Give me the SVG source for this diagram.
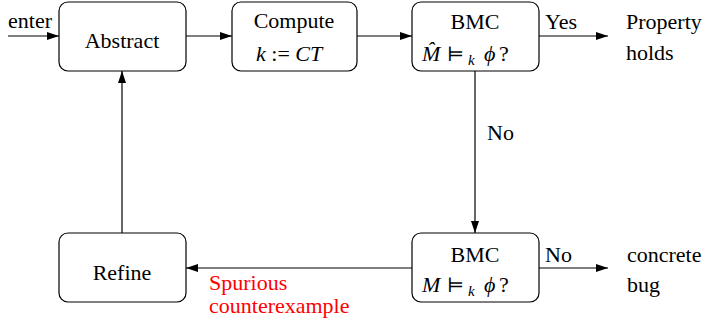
<svg xmlns="http://www.w3.org/2000/svg" width="709" height="322" viewBox="0 0 709 322">
  <defs>
    <marker id="arrow" viewBox="0 0 12 8" refX="12" refY="4" markerWidth="12" markerHeight="8" markerUnits="userSpaceOnUse" orient="auto">
      <path d="M0,0 L12,4 L0,8 Z" fill="#000"/>
    </marker>
  </defs>

  <!-- arrows -->
  <g id="connectors" fill="none" stroke="#000" stroke-width="1.2" marker-end="url(#arrow)">
    <line x1="8" y1="36" x2="59" y2="36"/>
    <line x1="186" y1="36" x2="232" y2="36"/>
    <line x1="357" y1="36" x2="412" y2="36"/>
    <line x1="539" y1="36" x2="608" y2="36"/>
    <line x1="475" y1="71" x2="475" y2="233"/>
    <line x1="539" y1="268" x2="608" y2="268"/>
    <line x1="412" y1="268" x2="186" y2="268"/>
    <line x1="122" y1="233" x2="122" y2="71"/>
  </g>

  <!-- edge labels -->
  <g id="edge-labels" font-family="Liberation Serif" font-size="22" fill="#000">
    <text x="8" y="28">enter</text>
    <text x="545" y="29">Yes</text>
    <text x="487" y="140">No</text>
    <text x="545" y="262">No</text>
    <text x="209" y="290" fill="#ff0000">Spurious</text>
    <text x="209" y="313" fill="#ff0000">counterexample</text>
  </g>

  <!-- process boxes -->
  <g id="abstract" font-family="Liberation Serif" font-size="22">
    <rect x="59" y="2" width="127" height="69" rx="9" fill="#fff" stroke="#000" stroke-width="1.2"/>
    <text x="122" y="48" text-anchor="middle">Abstract</text>
  </g>

  <g id="refine" font-family="Liberation Serif" font-size="22">
    <rect x="59" y="233" width="127" height="69" rx="9" fill="#fff" stroke="#000" stroke-width="1.2"/>
    <text x="122" y="280" text-anchor="middle">Refine</text>
  </g>

  <g id="compute" font-family="Liberation Serif" font-size="22">
    <rect x="232" y="2" width="125" height="69" rx="9" fill="#fff" stroke="#000" stroke-width="1.2"/>
    <text x="294" y="28" text-anchor="middle">Compute</text>
    <text x="256" y="61"><tspan font-style="italic">k</tspan> := <tspan font-style="italic">CT</tspan></text>
  </g>

  <!-- outcomes -->
  <g id="property-holds" font-family="Liberation Serif" font-size="22">
    <text x="626" y="29">Property</text>
    <text x="626" y="60">holds</text>
  </g>

  <g id="concrete-bug" font-family="Liberation Serif" font-size="22">
    <text x="627" y="262">concrete</text>
    <text x="627" y="292">bug</text>
  </g>

  <!-- model-checking boxes with their formulas -->
  <g id="bmc-abstract" font-family="Liberation Serif" font-size="22">
    <rect x="412" y="2" width="127" height="69" rx="9" fill="#fff" stroke="#000" stroke-width="1.2"/>
    <text x="475" y="29" text-anchor="middle">BMC</text>
    <text x="422" y="61" font-style="italic">M̂</text>
    <text x="447" y="61" font-family="DejaVu Serif" font-size="20">⊨</text>
    <text x="468" y="65" font-size="15" font-style="italic">k</text>
    <text x="484" y="61" font-family="Liberation Serif, DejaVu Serif" font-style="italic">ϕ</text>
    <text x="499" y="61">?</text>
  </g>

  <g id="bmc-concrete" font-family="Liberation Serif" font-size="22">
    <rect x="412" y="233" width="127" height="69" rx="9" fill="#fff" stroke="#000" stroke-width="1.2"/>
    <text x="475" y="262" text-anchor="middle">BMC</text>
    <text x="422" y="292" font-style="italic">M</text>
    <text x="447" y="292" font-family="DejaVu Serif" font-size="20">⊨</text>
    <text x="468" y="296" font-size="15" font-style="italic">k</text>
    <text x="484" y="292" font-family="Liberation Serif, DejaVu Serif" font-style="italic">ϕ</text>
    <text x="499" y="292">?</text>
  </g>
</svg>
